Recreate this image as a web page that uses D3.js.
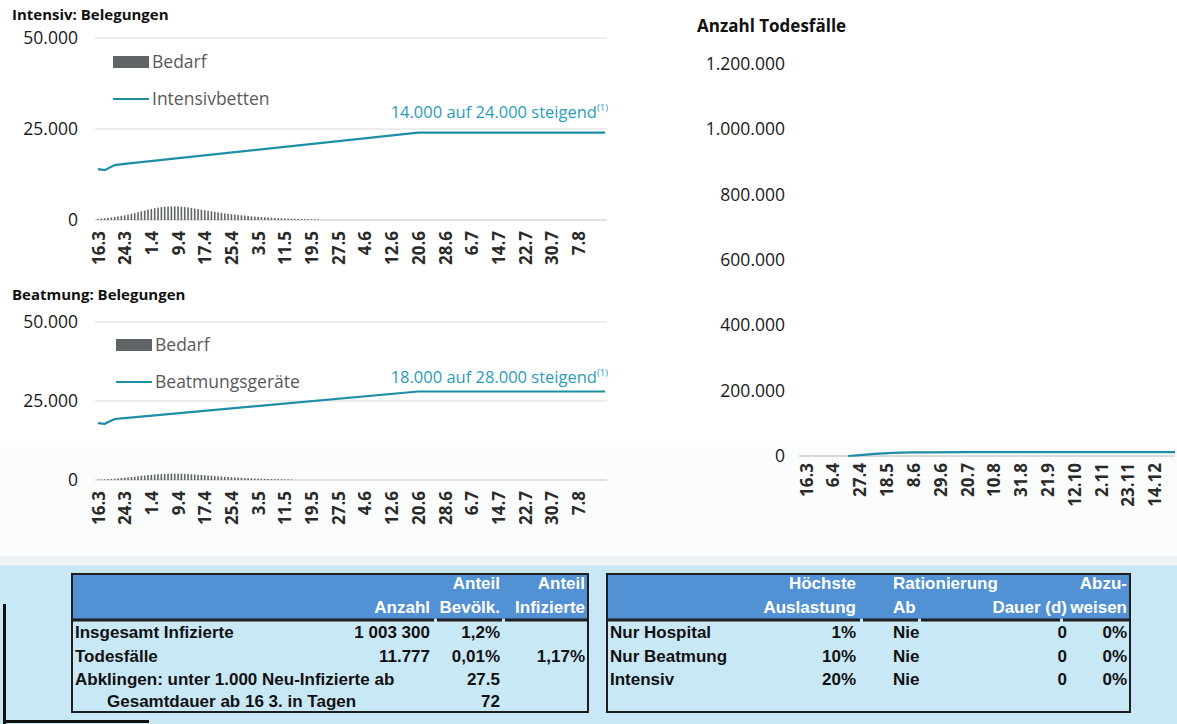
<!DOCTYPE html>
<html>
<head>
<meta charset="utf-8">
<script src="https://cdn.jsdelivr.net/npm/d3@7"></script>
<style>
  html, body { margin: 0; padding: 0; background: #fff; }
  svg { display: block; }
  .chart text { font-family: "Open Sans", Lato, sans-serif; }
  .tbl text { font-family: "Liberation Sans", Arial, sans-serif; font-weight: bold; }
</style>
</head>
<body>
<svg id="root" width="1177" height="724"></svg>
<script>
// ---- Data ----
const parseDate = d3.utcParse("%d.%m.%Y");
const start = "16.3.2020";

// Occupancy charts: tick labels on the date axis (every 8 days)
const occTickLabels = ["16.3","24.3","1.4","9.4","17.4","25.4","3.5","11.5","19.5","27.5",
  "4.6","12.6","20.6","28.6","6.7","14.7","22.7","30.7","7.8"];
const occEnd = "15.8.2020";
const occYTicks = [0, 25000, 50000];

// ICU beds capacity (date, beds)
const icuCapacity = [
  ["16.3", 14000], ["18.3", 13700], ["21.3", 15100], ["24.3", 15400],
  ["20.6", 24000], ["15.8", 24000]
];
// ICU daily demand from 16.3 onwards
const icuDemand = [300,400,500,600,700,850,1000,1150,1300,1500,1700,1900,2150,2400,2600,2850,
  3050,3250,3400,3550,3650,3700,3750,3750,3700,3650,3550,3450,3300,3150,3000,2850,2700,2550,
  2400,2250,2100,1950,1800,1700,1600,1500,1400,1300,1200,1100,1000,950,880,800,740,680,620,
  570,520,480,440,400,370,340,310,280,250,230,210,190,170];

// Ventilator capacity (date, devices)
const ventCapacity = [
  ["16.3", 18000], ["18.3", 17800], ["21.3", 19300], ["24.3", 19600],
  ["20.6", 28000], ["15.8", 28000]
];
// Ventilator daily demand from 16.3 onwards
const ventDemand = [100,150,200,260,330,420,520,620,730,840,950,1060,1180,1300,1420,1530,
  1640,1740,1820,1890,1950,1990,2020,2030,2020,1990,1950,1890,1820,1740,1660,1580,1500,1420,
  1340,1260,1180,1100,1020,950,880,810,750,690,630,580,530,480,440,400,360,330,300,270,240,
  210,190,170,150];

// Deaths chart
const deathTickLabels = ["16.3","6.4","27.4","18.5","8.6","29.6","20.7","10.8","31.8","21.9",
  "12.10","2.11","23.11","14.12"];
const deathEnd = "30.12.2020";
const deathYTicks = [0, 200000, 400000, 600000, 800000, 1000000, 1200000];
const deaths = [
  ["18.4", 0], ["25.4", 1800], ["2.5", 4200], ["9.5", 6500], ["16.5", 8300], ["23.5", 9600],
  ["6.6", 10900], ["20.6", 11400], ["18.7", 11700], ["15.8", 11777], ["30.12", 11777]
];

// Summary tables
const infHeader1 = ["", "", "Anteil", "Anteil"];
const infHeader2 = ["", "Anzahl", "Bevölk.", "Infizierte"];
const infRows = [
  ["Insgesamt Infizierte", "1 003 300", "1,2%", ""],
  ["Todesfälle", "11.777", "0,01%", "1,17%"],
  ["Abklingen: unter 1.000 Neu-Infizierte ab", "", "27.5", ""],
  ["Gesamtdauer ab 16 3. in Tagen", "", "72", ""]
];
const capHeader1 = ["", "Höchste", "Rationierung", "", "Abzu-"];
const capHeader2 = ["", "Auslastung", "Ab", "Dauer (d)", "weisen"];
const capRows = [
  ["Nur Hospital", "1%", "Nie", "0", "0%"],
  ["Nur Beatmung", "10%", "Nie", "0", "0%"],
  ["Intensiv", "20%", "Nie", "0", "0%"]
];

// ---- Drawing ----
const de = d3.formatLocale({decimal: ",", thousands: ".", grouping: [3], currency: ["", "€"]});
const fmt = de.format(",d");
const svg = d3.select("#root");
const teal = "#1d8ea3";
const tealText = "#2a9dba";
const day = s => parseDate(s.split(".").length === 2 ? s + ".2020" : s);

// light band behind the tables
svg.append("rect").attr("x", 0).attr("y", 447).attr("width", 1177).attr("height", 110).attr("fill", "#fbfcfc");
svg.append("rect").attr("x", 0).attr("y", 556).attr("width", 1177).attr("height", 10).attr("fill", "#eef3f5");
svg.append("rect").attr("x", 0).attr("y", 565).attr("width", 1177).attr("height", 159).attr("fill", "#c9e8f5");
svg.append("rect").attr("x", 3).attr("y", 604).attr("width", 3).attr("height", 120).attr("fill", "#111");
svg.append("rect").attr("x", 3).attr("y", 720).attr("width", 146).attr("height", 3).attr("fill", "#111");

function occChart(cfg) {
  const g = svg.append("g").attr("class", "chart");
  const x = d3.scaleUtc().domain([day(start), day(occEnd)]).range([98, 605]);
  const y = d3.scaleLinear().domain([0, 50000]).range([cfg.y0, cfg.y50]);

  g.append("text").attr("x", 12).attr("y", cfg.titleY).attr("font-weight", 700)
    .attr("font-size", 15).attr("fill", "#111").text(cfg.title);

  // grid
  g.selectAll("line.grid").data(occYTicks).join("line")
    .attr("x1", 95).attr("x2", 607).attr("y1", d => y(d)).attr("y2", d => y(d))
    .attr("stroke", d => d === 0 ? "#c8c8c8" : "#dcdcdc").attr("stroke-width", 1.2);

  // y labels
  g.selectAll("text.yl").data(occYTicks).join("text")
    .attr("x", 78).attr("y", d => y(d)).attr("dy", "0.35em").attr("text-anchor", "end")
    .attr("font-size", 17.5).attr("fill", "#1a1a1a").text(d => fmt(d));

  // demand bars
  const t0 = day(start);
  g.selectAll("rect.bar").data(cfg.demand).join("rect")
    .attr("x", (d, i) => x(d3.utcDay.offset(t0, i)) - 0.8)
    .attr("width", 1.6)
    .attr("y", d => y(d)).attr("height", d => y(0) - y(d))
    .attr("fill", "#5f6566");

  // capacity line
  const line = d3.line().x(d => x(day(d[0]))).y(d => y(d[1]));
  g.append("path").datum(cfg.capacity).attr("d", line)
    .attr("fill", "none").attr("stroke", teal).attr("stroke-width", 2.2);

  // annotation
  const ann = g.append("text").attr("x", 608).attr("y", cfg.annY).attr("text-anchor", "end")
    .attr("font-size", 16.5).attr("fill", tealText);
  ann.append("tspan").text(cfg.annotation);
  ann.append("tspan").attr("font-size", 9.5).attr("dy", -7).text("(1)");

  // legend
  const lg = g.append("g").attr("transform", `translate(${cfg.legX},${cfg.legY})`);
  lg.append("rect").attr("x", 0).attr("y", -6).attr("width", 36).attr("height", 12).attr("fill", "#5f6566");
  lg.append("text").attr("x", 39).attr("y", 0).attr("dy", "0.35em").attr("font-size", 17.5)
    .attr("fill", "#595959").text("Bedarf");
  lg.append("line").attr("x1", 0).attr("x2", 36).attr("y1", cfg.legGap).attr("y2", cfg.legGap)
    .attr("stroke", teal).attr("stroke-width", 2.2);
  lg.append("text").attr("x", 39).attr("y", cfg.legGap).attr("dy", "0.35em").attr("font-size", 17.5)
    .attr("fill", "#595959").text(cfg.lineLabel);

  // date axis
  const ax = d3.axisBottom(x).tickValues(occTickLabels.map(day)).tickSize(0)
    .tickFormat((d, i) => occTickLabels[i]);
  const axg = g.append("g").attr("transform", `translate(0,${y(0)})`).call(ax);
  axg.select(".domain").remove();
  axg.selectAll("text").attr("transform", "rotate(-90)").attr("text-anchor", "end")
    .attr("x", -11).attr("y", 0).attr("dy", "0.36em")
    .attr("font-size", 17).attr("font-weight", 700)
    .attr("font-family", "'Open Sans', sans-serif").attr("fill", "#2a2a2a");
}

occChart({
  title: "Intensiv: Belegungen", titleY: 20, y0: 220, y50: 38,
  demand: icuDemand, capacity: icuCapacity, lineLabel: "Intensivbetten",
  annotation: "14.000 auf 24.000 steigend", annY: 118, legX: 113, legY: 62, legGap: 37
});
occChart({
  title: "Beatmung: Belegungen", titleY: 300, y0: 480, y50: 322,
  demand: ventDemand, capacity: ventCapacity, lineLabel: "Beatmungsgeräte",
  annotation: "18.000 auf 28.000 steigend", annY: 383, legX: 116, legY: 345, legGap: 37
});

// deaths chart
(function () {
  const g = svg.append("g").attr("class", "chart");
  const x = d3.scaleUtc().domain([day(start), day(deathEnd)]).range([806, 1175]);
  const y = d3.scaleLinear().domain([0, 1200000]).range([456, 64]);
  g.append("text").attr("x", 697).attr("y", 32).attr("font-weight", 700).attr("font-size", 17)
    .attr("fill", "#111").text("Anzahl Todesfälle");
  g.selectAll("text.yl").data(deathYTicks).join("text")
    .attr("x", 785).attr("y", d => y(d)).attr("dy", "0.35em").attr("text-anchor", "end")
    .attr("font-size", 17.5).attr("fill", "#1a1a1a").text(d => fmt(d));
  g.append("line").attr("x1", 799).attr("x2", 1175).attr("y1", y(0)).attr("y2", y(0))
    .attr("stroke", "#b8b8b8").attr("stroke-width", 1.2);
  const line = d3.line().x(d => x(day(d[0]))).y(d => y(d[1]));
  g.append("path").datum(deaths).attr("d", line).attr("fill", "none")
    .attr("stroke", teal).attr("stroke-width", 2.2);
  const ax = d3.axisBottom(x).tickValues(deathTickLabels.map(day)).tickSize(0)
    .tickFormat((d, i) => deathTickLabels[i]);
  const axg = g.append("g").attr("transform", `translate(0,${y(0)})`).call(ax);
  axg.select(".domain").remove();
  axg.selectAll("text").attr("transform", "rotate(-90)").attr("text-anchor", "end")
    .attr("x", -7).attr("y", 0).attr("dy", "0.36em")
    .attr("font-size", 17).attr("font-weight", 700)
    .attr("font-family", "'Open Sans', sans-serif").attr("fill", "#2a2a2a");
})();

// tables
function table(cfg) {
  const g = svg.append("g").attr("class", "tbl");
  g.append("rect").attr("x", cfg.x).attr("y", 574).attr("width", cfg.w).attr("height", 138)
    .attr("fill", "#c9e8f5").attr("stroke", "#1e1e1e").attr("stroke-width", 2);
  g.append("rect").attr("x", cfg.x + 1).attr("y", 575).attr("width", cfg.w - 2).attr("height", 44)
    .attr("fill", "#5291d3");
  cfg.rules.forEach(r => g.append("line").attr("x1", r[0]).attr("x2", r[1]).attr("y1", 620).attr("y2", 620)
    .attr("stroke", "#1e1e1e").attr("stroke-width", 3));
  const put = (rows, ys, fill, isBody) => rows.forEach((row, ri) => row.forEach((t, ci) => {
    if (!t) return;
    const c = cfg.cols[ci];
    const x = (isBody && ci === 0 && cfg.indent) ? c.x + cfg.indent[ri] : c.x;
    g.append("text").attr("x", x).attr("y", ys[ri]).attr("text-anchor", c.a)
      .attr("font-size", 17).attr("fill", fill).text(t);
  }));
  put([cfg.h1, cfg.h2], [589, 613], "#fff", false);
  put(cfg.body, [638, 662, 685, 707], "#111", true);
}

const infTable = {
  x: 72, w: 516, h1: infHeader1, h2: infHeader2, body: infRows, indent: [0, 0, 0, 32],
  cols: [{x: 75, a: "start"}, {x: 430, a: "end"}, {x: 500, a: "end"}, {x: 585, a: "end"}],
  rules: [[72, 434], [437, 502], [505, 588]]
};
table(infTable);

const capTable = {
  x: 607, w: 523, h1: capHeader1, h2: capHeader2, body: capRows,
  cols: [{x: 610, a: "start"}, {x: 856, a: "end"}, {x: 893, a: "start"}, {x: 1067, a: "end"}, {x: 1127, a: "end"}],
  rules: [[607, 860], [863, 918], [921, 1060], [1063, 1130]]
};
table(capTable);
</script>
</body>
</html>
